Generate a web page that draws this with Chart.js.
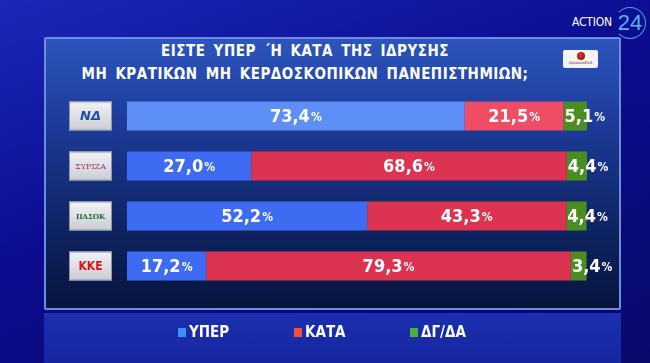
<!DOCTYPE html>
<html lang="el">
<head>
  <meta charset="UTF-8">
  <title>Poll</title>
  <style>
    html, body { margin: 0; padding: 0; }
    body {
      width: 650px; height: 363px; overflow: hidden; position: relative;
      background: linear-gradient(160deg, #1a28b8 0%, #0b0c8f 45%, #080a6a 100%);
      font-family: "DejaVu Sans Condensed", "DejaVu Sans", sans-serif;
    }
    .panel {
      position: absolute; left: 44px; top: 37px; width: 577px; height: 273px;
      border: 2px solid #6d8ce0; border-radius: 2px; box-sizing: border-box;
      background: linear-gradient(to bottom, #2d55bd 0%, #1d3c9c 30%, #0f2463 70%, #07143d 100%);
    }
    .strip {
      position: absolute; left: 44px; top: 313px; width: 577px; height: 50px;
      background: linear-gradient(to bottom, #1b2fb0 0%, #1626a0 100%);
    }
    .title {
      position: absolute; left: 44px; top: 40px; width: 522px; text-align: center;
      color: #fff; font-weight: bold; font-size: 15px; line-height: 23px;
      letter-spacing: 0.5px; word-spacing: 3px;
    }
    .op {
      position: absolute; left: 563px; top: 50px; width: 35px; height: 18px;
      background: #f4f4f4; border-radius: 2px; text-align: center;
    }
    .op .dot { width: 8px; height: 8px; border-radius: 50%; margin: 2px auto 0;
      background: radial-gradient(circle at 40% 40%, #e0302a, #7a1010); }
    .op .t { font-size: 4px; color: #a02020; font-family: "DejaVu Serif", serif; line-height: 5px; }
    .logo { position: absolute; left: 0; top: 0; color: #fff; }
    .logo .a { position: absolute; left: 572px; top: 15px; font-family: "DejaVu Sans Condensed", sans-serif; font-size: 12px; letter-spacing: -0.2px; white-space: nowrap; }
    .logo .n { position: absolute; left: 614px; top: 7px; width: 30px; height: 30px; border: 1.5px solid #4aa0e8; border-radius: 50%;
      border-left-color: transparent; color: #5ab0f0; font-family: "Liberation Sans", sans-serif; font-size: 22px; line-height: 30px; text-align: center; }
    canvas { position: absolute; left: 0; top: 0; }
  </style>
</head>
<body>
  <div class="panel"></div>
  <div class="strip"></div>
  <div class="title">ΕΙΣΤΕ ΥΠΕΡ ΄Η ΚΑΤΑ ΤΗΣ ΙΔΡΥΣΗΣ<br>ΜΗ ΚΡΑΤΙΚΩΝ ΜΗ ΚΕΡΔΟΣΚΟΠΙΚΩΝ ΠΑΝΕΠΙΣΤΗΜΙΩΝ;</div>
  <div class="op"><div class="dot"></div><div class="t">OpinionPoll</div></div>
  <div class="logo"><span class="a">ACTION</span><span class="n">24</span></div>
  <canvas id="myChart" width="650" height="363"></canvas>

  <script src="https://cdn.jsdelivr.net/npm/chart.js"></script>
  <script>
    const parties = ['ΝΔ', 'ΣΥΡΙΖΑ', 'ΠΑΣΟΚ', 'ΚΚΕ'];
    const yper = [73.4, 27.0, 52.2, 17.2];
    const kata = [21.5, 68.6, 43.3, 79.3];
    const dgda = [5.1, 4.4, 4.4, 3.4];
    const seriesNames = ['ΥΠΕΡ', 'ΚΑΤΑ', 'ΔΓ/ΔΑ'];

    const logoStyle = {
      'ΝΔ': { color: '#1f4ea8', font: 'bold italic 13px "DejaVu Sans"' },
      'ΣΥΡΙΖΑ': { color: '#9a3c68', font: '8px "DejaVu Serif"' },
      'ΠΑΣΟΚ': { color: '#1f6a2a', font: 'bold 7px "DejaVu Serif"' },
      'ΚΚΕ': { color: '#d0181c', font: 'bold 12px "DejaVu Sans Condensed"' }
    };
    const legendColors = ['#3f8ff4', '#f2503e', '#4cb040'];

    const fmt = v => v.toFixed(1).replace('.', ',');

    const barLabels = {
      id: 'barLabels',
      afterDatasetsDraw(chart) {
        const c = chart.ctx;
        c.save();
        c.fillStyle = '#fff';
        c.textBaseline = 'middle';
        chart.data.datasets.forEach((ds, di) => {
          chart.getDatasetMeta(di).data.forEach((bar, i) => {
            const num = fmt(ds.data[i]);
            c.font = 'bold 18px "DejaVu Sans Condensed"';
            const w1 = c.measureText(num).width;
            c.font = 'bold 12px "DejaVu Sans Condensed"';
            const w2 = c.measureText('%').width;
            let x;
            if (di === 2) x = Math.min(bar.base, bar.x) + 1;
            else x = (bar.base + bar.x) / 2 - (w1 + w2 + 1) / 2;
            c.textAlign = 'left';
            c.font = 'bold 18px "DejaVu Sans Condensed"';
            c.fillText(num, x, bar.y + 1);
            c.font = 'bold 12px "DejaVu Sans Condensed"';
            c.fillText('%', x + w1 + 1, bar.y + 2);
          });
        });
        c.restore();
      }
    };

    const partyLogos = {
      id: 'partyLogos',
      afterDraw(chart) {
        const c = chart.ctx;
        const meta = chart.getDatasetMeta(0);
        c.save();
        meta.data.forEach((bar, i) => {
          const h = bar.height;
          const x = chart.chartArea.left - 58, y = bar.y - h / 2, w = 43;
          const g = c.createLinearGradient(0, y, 0, y + h);
          g.addColorStop(0, '#f2f3f6');
          g.addColorStop(1, '#c9ccd4');
          c.fillStyle = g;
          c.fillRect(x, y, w, h);
          c.strokeStyle = '#8e96aa';
          c.lineWidth = 1;
          c.strokeRect(x + 0.5, y + 0.5, w - 1, h - 1);
          const st = logoStyle[parties[i]];
          c.fillStyle = st.color;
          c.font = st.font;
          c.textAlign = 'center';
          c.textBaseline = 'middle';
          c.fillText(parties[i], x + w / 2, bar.y + 1);
        });
        c.restore();
      }
    };

    const bottomLegend = {
      id: 'bottomLegend',
      afterDraw(chart) {
        const c = chart.ctx;
        const xs = [178, 294, 410];
        c.save();
        c.textBaseline = 'middle';
        c.textAlign = 'left';
        c.font = 'bold 15px "DejaVu Sans Condensed"';
        seriesNames.forEach((name, i) => {
          c.fillStyle = legendColors[i];
          c.fillRect(xs[i], 328, 8, 9);
          c.fillStyle = '#fff';
          c.fillText(name, xs[i] + 11, 333);
        });
        c.restore();
      }
    };

    const ctx = document.getElementById('myChart').getContext('2d');
    new Chart(ctx, {
      type: 'bar',
      data: {
        labels: parties,
        datasets: [
          { label: seriesNames[0], data: yper, backgroundColor: ['#5e8ff6', '#3d6cf2', '#3d6cf2', '#3d6cf2'] },
          { label: seriesNames[1], data: kata, backgroundColor: ['#ef4c66', '#dc3450', '#dc3450', '#dc3450'] },
          { label: seriesNames[2], data: dgda, backgroundColor: '#4a8e22' }
        ]
      },
      options: {
        indexAxis: 'y',
        responsive: false,
        animation: false,
        barPercentage: 0.58,
        categoryPercentage: 1,
        layout: { padding: { left: 127, right: 63, top: 91, bottom: 72 } },
        scales: {
          x: { stacked: true, min: 0, max: 100, display: false },
          y: { stacked: true, display: false }
        },
        plugins: {
          legend: { display: false },
          title: { display: false },
          tooltip: { enabled: false }
        }
      },
      plugins: [barLabels, partyLogos, bottomLegend]
    });
  </script>
</body>
</html>
